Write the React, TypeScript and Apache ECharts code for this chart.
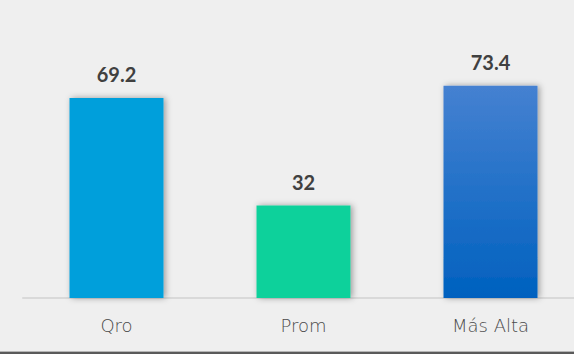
import React, { useEffect, useRef } from "react";
import * as echarts from "echarts";

const categories = ["Qro", "Prom", "Más Alta"];
const values = [69.2, 32, 73.4];
const barColors = ["#009fdb", "#11d19b", null];

export default function App() {
  const ref = useRef<HTMLDivElement>(null);
  useEffect(() => {
    if (!ref.current) return;
    const chart = echarts.init(ref.current, null, { renderer: "svg" });
    const gradient = new echarts.graphic.LinearGradient(0, 0, 0, 1, [
      { offset: 0, color: "#4581d1" },
      { offset: 1, color: "#0061bf" },
    ]);
    chart.setOption({
      animation: false,
      backgroundColor: "#efefef",
      grid: { left: 23, top: 9, width: 561, height: 289 },
      xAxis: {
        type: "category",
        data: categories,
        axisLine: { lineStyle: { color: "#d9d9d9", width: 2 } },
        axisTick: { show: false },
        axisLabel: {
          margin: 18,
          fontFamily: "DejaVu Sans",
          fontSize: 18,
          fontWeight: 300,
          color: "#4a4a4a",
        },
      },
      yAxis: {
        type: "value",
        min: 0,
        max: 100,
        show: false,
        splitLine: { show: false },
      },
      series: [
        {
          type: "bar",
          barWidth: 94,
          data: values.map((v, i) => ({
            value: v,
            itemStyle: { color: barColors[i] ?? gradient },
          })),
          itemStyle: {
            shadowBlur: 6,
            shadowOffsetX: 2,
            shadowOffsetY: 0,
            shadowColor: "rgba(0,0,0,0.35)",
          },
          label: {
            show: true,
            position: "top",
            distance: 14,
            fontFamily: "Lato",
            fontWeight: "bold",
            fontSize: 20,
            color: "#404040",
          },
        },
      ],
      graphic: [
        {
          type: "rect",
          left: 0,
          top: 351,
          shape: { width: 574, height: 1 },
          style: { fill: "#b5b5b5" },
          silent: true,
        },
        {
          type: "rect",
          left: 0,
          top: 352,
          shape: { width: 574, height: 2 },
          style: { fill: "#5a5a5a" },
          silent: true,
        },
      ],
    });
    return () => chart.dispose();
  }, []);
  return (
    <div
      style={{
        position: "absolute",
        left: 0,
        top: 0,
        width: 574,
        height: 354,
        overflow: "hidden",
      }}
    >
      <div ref={ref} style={{ width: 600, height: 354 }} />
    </div>
  );
}
